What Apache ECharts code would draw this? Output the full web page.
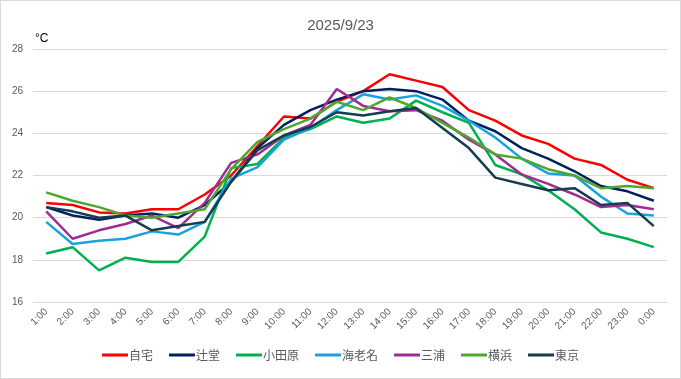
<!DOCTYPE html>
<html>
<head>
<meta charset="utf-8">
<script src="https://cdn.jsdelivr.net/npm/echarts@6/dist/echarts.min.js"></script>
<style>
html,body{margin:0;padding:0;background:#fff;}
#c{width:679px;height:377px;border:1px solid #d9d9d9;}
</style>
</head>
<body>
<div id="c"></div>
<script>
const hours = ['1:00','2:00','3:00','4:00','5:00','6:00','7:00','8:00','9:00','10:00','11:00','12:00','13:00','14:00','15:00','16:00','17:00','18:00','19:00','20:00','21:00','22:00','23:00','0:00'];
const seriesNames = ['自宅','辻堂','小田原','海老名','三浦','横浜','東京'];
const jitaku   = [20.7,20.6,20.25,20.2,20.4,20.4,21.1,22.0,23.4,24.8,24.7,25.5,26.0,26.8,26.5,26.2,25.1,24.6,23.9,23.5,22.8,22.5,21.8,21.4];
const tsujido  = [20.5,20.1,19.9,20.1,20.2,20.0,20.6,21.7,23.3,24.4,25.1,25.6,26.0,26.1,26.0,25.6,24.6,24.1,23.3,22.8,22.2,21.5,21.25,20.8];
const odawara  = [18.3,18.6,17.5,18.1,17.9,17.9,19.1,22.35,22.55,23.8,24.2,24.8,24.5,24.7,25.55,25.0,24.5,22.5,22.05,21.3,20.4,19.3,19.0,18.6];
const ebina    = [19.8,18.75,18.9,19.0,19.35,19.2,19.8,21.85,22.4,23.7,24.25,25.1,25.85,25.6,25.8,25.3,24.6,23.8,22.8,22.1,22.0,21.0,20.2,20.1];
const miura    = [20.3,19.0,19.4,19.7,20.1,19.5,20.7,22.6,23.0,23.9,24.4,26.1,25.3,25.05,25.1,24.6,23.7,23.0,22.05,21.6,21.1,20.5,20.6,20.4];
const yokohama = [21.2,20.8,20.5,20.1,20.0,20.2,20.4,22.3,23.6,24.2,24.7,25.5,25.1,25.7,25.2,24.5,23.8,23.0,22.8,22.3,22.0,21.4,21.5,21.4];
const tokyo    = [20.5,20.3,20.0,20.1,19.4,19.6,19.8,21.7,23.2,23.9,24.3,25.0,24.85,25.05,25.2,24.25,23.3,21.9,21.6,21.3,21.4,20.6,20.7,19.6];
const yTicks = [16,18,20,22,24,26,28];

const colors = ['#FF0000','#002060','#00B050','#1AA2DC','#A02B93','#4EA72E','#153D4F'];
const dataList = [jitaku,tsujido,odawara,ebina,miura,yokohama,tokyo];

const chart = echarts.init(document.getElementById('c'));
chart.setOption({
  animation:false,
  color:colors,
  title:{text:'2025/9/23',left:'center',top:12,textStyle:{fontFamily:'Liberation Sans, Arial, sans-serif',fontSize:15,fontWeight:'normal',color:'#595959'}},
  grid:{left:32,right:13,top:48,bottom:76,containLabel:false},
  legend:{bottom:12,left:'center',itemWidth:26,itemHeight:3,itemGap:16,icon:'rect',
    textStyle:{fontFamily:'Noto Sans CJK JP, sans-serif',fontSize:12,color:'#595959',padding:[0,0,0,-4]},
    data:seriesNames},
  xAxis:{type:'category',data:hours,boundaryGap:true,
    axisLine:{show:false},axisTick:{show:false},
    axisLabel:{rotate:45,fontSize:10,color:'#595959',fontFamily:'Liberation Sans, Arial, sans-serif',margin:8,interval:0}},
  yAxis:{type:'value',min:yTicks[0],max:yTicks[yTicks.length-1],interval:2,
    name:'°C',nameLocation:'end',nameGap:4,
    nameTextStyle:{color:'#000',fontSize:12,fontFamily:'Liberation Sans, Arial, sans-serif',align:'left',padding:[0,0,0,2]},
    axisLine:{show:false},axisTick:{show:false},
    axisLabel:{fontSize:10,color:'#595959',fontFamily:'Liberation Sans, Arial, sans-serif',margin:10},
    splitLine:{lineStyle:{color:'#d9d9d9',width:1}}},
  series:seriesNames.map((n,i)=>({name:n,type:'line',data:dataList[i],symbol:'none',
    lineStyle:{width:2.5,color:colors[i]},itemStyle:{color:colors[i]}}))
});
</script>
</body>
</html>
